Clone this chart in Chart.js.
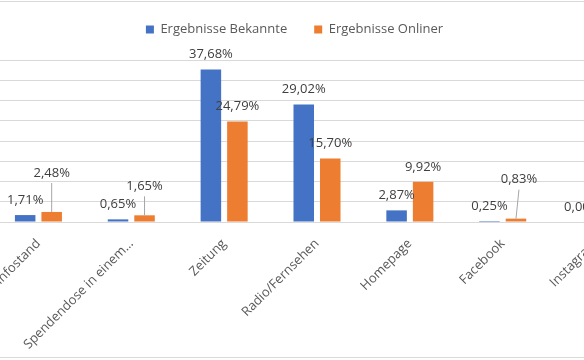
<!DOCTYPE html>
<html lang="de">
<head>
    <meta charset="UTF-8">
    <title>Ergebnisse Bekannte / Onliner</title>
    <style>
        body {
            margin: 0;
            background: #fff;
        }

        .wrap {
            position: relative;
            width: 584px;
            height: 360px;
            overflow: hidden;
            background: #fff;
        }

        /* Excel chart frame, sides fall outside the crop */
        .frame {
            position: absolute;
            left: -3px;
            top: 1px;
            width: 588px;
            height: 355px;
            border: 1px solid #d9d9d9;
        }

        .chart-box {
            position: absolute;
            left: -53px;
            top: -4px;
        }
    </style>
</head>
<body>
    <div class="wrap">
        <div class="frame"></div>
        <div class="chart-box">
            <canvas id="chart" width="695" height="364"></canvas>
        </div>
    </div>

    <script src="https://cdn.jsdelivr.net/npm/chart.js"></script>
    <script>
        const categories = ['Infostand', 'Spendendose in einem…', 'Zeitung', 'Radio/Fernsehen', 'Homepage', 'Facebook', 'Instagram'];
        const bekannte = [1.71, 0.65, 37.68, 29.02, 2.87, 0.25, 0.00];
        const onliner = [2.48, 1.65, 24.79, 15.70, 9.92, 0.83, 0.00];

        // labels that were dragged up in the original, with a leader line
        const onlinerLabelLift = [24, 14, 0, 0, 0, 24, 0];
        const onlinerLabelShift = [0, 0, 0, 0, 0, 3, 0];

        const FONT = "'Open Sans', sans-serif";

        const legendHeight = {
            id: 'legendHeight',
            beforeInit(chart) {
                const fit = chart.legend.fit;
                chart.legend.fit = function () {
                    fit.call(this);
                    this.height = 64;
                };
            }
        };

        const valueLabels = {
            id: 'valueLabels',
            afterDatasetsDraw(chart) {
                const ctx = chart.ctx;
                ctx.save();
                ctx.font = '13px ' + FONT;
                ctx.fillStyle = '#404040';
                ctx.textAlign = 'center';
                ctx.textBaseline = 'middle';
                chart.data.datasets.forEach((ds, di) => {
                    chart.getDatasetMeta(di).data.forEach((bar, i) => {
                        const lift = di === 1 ? onlinerLabelLift[i] : 0;
                        const shift = di === 1 ? onlinerLabelShift[i] : 0;
                        const x = bar.x + shift;
                        const y = bar.y - 15 - lift;
                        if (lift > 0) {
                            ctx.strokeStyle = '#a6a6a6';
                            ctx.lineWidth = 1;
                            ctx.beginPath();
                            ctx.moveTo(x, y + 10);
                            ctx.lineTo(bar.x, bar.y);
                            ctx.stroke();
                        }
                        const txt = ds.data[i].toFixed(2).replace('.', ',') + '%';
                        ctx.fillText(txt, x, y);
                    });
                });
                ctx.restore();
            }
        };

        new Chart(document.getElementById('chart'), {
            type: 'bar',
            data: {
                labels: categories,
                datasets: [{
                    label: 'Ergebnisse Bekannte',
                    data: bekannte,
                    backgroundColor: '#4472C4'
                }, {
                    label: 'Ergebnisse Onliner',
                    data: onliner,
                    backgroundColor: '#ED7D31'
                }]
            },
            options: {
                responsive: false,
                animation: false,
                categoryPercentage: 0.571,
                barPercentage: 0.774,
                layout: { padding: 0 },
                plugins: {
                    legend: {
                        position: 'top',
                        labels: {
                            boxWidth: 8,
                            boxHeight: 8,
                            padding: 27,
                            color: '#595959',
                            font: { family: FONT, size: 13 }
                        }
                    },
                    tooltip: { enabled: false }
                },
                scales: {
                    x: {
                        grid: { display: false },
                        border: { color: '#d9d9d9' },
                        ticks: {
                            minRotation: 45,
                            maxRotation: 45,
                            autoSkip: false,
                            padding: 6,
                            color: '#595959',
                            font: { family: FONT, size: 13 }
                        },
                        afterFit(scale) { scale.height = 138; }
                    },
                    y: {
                        min: 0,
                        max: 40,
                        ticks: { display: false, stepSize: 5 },
                        grid: { color: '#d9d9d9', drawTicks: false },
                        border: { display: false },
                        afterFit(scale) { scale.width = 45; }
                    }
                }
            },
            plugins: [legendHeight, valueLabels]
        });
    </script>
</body>
</html>
